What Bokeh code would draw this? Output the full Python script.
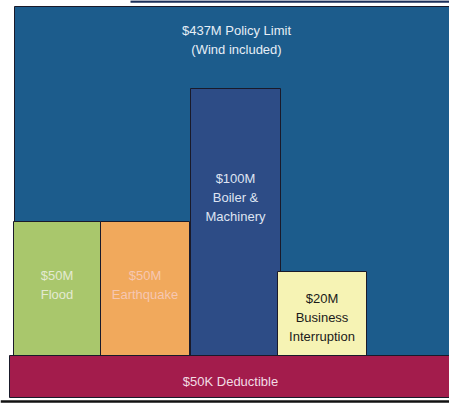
from bokeh.plotting import figure
from bokeh.models import Range1d, ColumnDataSource
from bokeh.embed import file_html
from bokeh.resources import INLINE
from bokeh.core.properties import value

# Coverage layers (schematic tower)
layers = ["Policy Limit", "Flood", "Earthquake", "Boiler & Machinery", "Business Interruption", "Deductible"]
limits = ["$437M", "$50M", "$50M", "$100M", "$20M", "$50K"]
x_left = [14, 13, 100, 190, 277, 9]
x_right = [449, 100, 189, 280, 366, 449]
y_bottom = [49, 49, 49, 49, 47, 7]
y_top = [398, 183, 183, 316, 133, 49]
colors = ["#1c5c8c", "#a9c76c", "#f1a95c", "#2d4c86", "#f6f3b4", "#a31c4c"]

labels = [
    ["$437M Policy Limit", "(Wind included)"],
    ["$50M", "Flood"],
    ["$50M", "Earthquake"],
    ["$100M", "Boiler &", "Machinery"],
    ["$20M", "Business", "Interruption"],
    ["$50K Deductible"],
]
label_y = [374, 129, 129, 226, 106, 23]
label_colors = ["#e6eef6", "#e4ead2", "#f6c7b2", "#dfe4f2", "#1a1a1a", "#f2dce4"]

p = figure(width=449, height=404, output_backend="svg", toolbar_location=None,
           x_range=Range1d(0, 449), y_range=Range1d(0, 404),
           min_border=0, background_fill_color="white", border_fill_color="white")
p.axis.visible = False
p.grid.visible = False
p.outline_line_color = None

src = ColumnDataSource(dict(left=x_left, right=x_right, bottom=y_bottom, top=y_top, color=colors))
p.quad(left="left", right="right", bottom="bottom", top="top", fill_color="color",
       line_color="#1a1a2a", line_width=1, source=src)

# bottom rule and top strip
p.segment(x0=[0], x1=[449], y0=[3], y1=[3], line_color="#111111", line_width=2.5)
p.segment(x0=[130], x1=[449], y0=[403], y1=[403], line_color="#1b2f5a", line_width=2.5)

for i, lines in enumerate(labels):
    cx = (x_left[i] + x_right[i]) / 2
    if i == 0:
        cx = 236
    if i == 5:
        cx = 230
    ys = [label_y[i] - 19 * k for k in range(len(lines))]
    p.text(x=[cx] * len(lines), y=ys, text=lines, text_align="center", text_baseline="middle",
           text_font=value("Liberation Sans"), text_font_size="13px", text_color=label_colors[i])

open("out.html", "w").write(file_html(p, INLINE))
